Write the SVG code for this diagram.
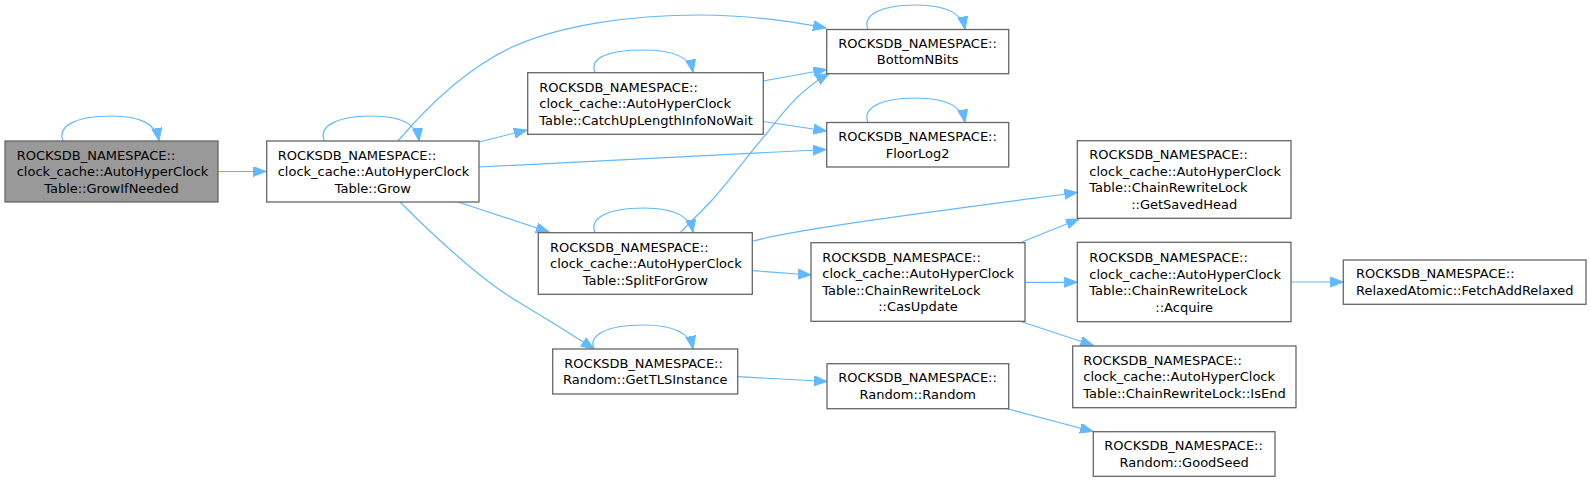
<svg xmlns="http://www.w3.org/2000/svg" width="1591" height="482" viewBox="0 0 1591 482">
<style>
.box{fill:#ffffff;stroke:#666666;stroke-width:1.3}
.cur{fill:#999999;stroke:#666666;stroke-width:1.3}
text{font-family:"DejaVu Sans",sans-serif;font-size:13px;fill:#000000}
.m{text-anchor:middle}
.e{fill:none;stroke:#63b8ff;stroke-width:1.2;marker-end:url(#ah)}
</style>
<defs>
<marker id="ah" markerUnits="userSpaceOnUse" markerWidth="15" markerHeight="12" refX="13" refY="5" orient="auto" viewBox="0 0 15 12">
<path d="M0,0 L13,5 L0,10 z" fill="#63b8ff" stroke="#63b8ff" stroke-width="1"/>
</marker>
</defs>
<g id="edges">
<path class="e" d="M63,141 C57,126 76,116 111,116 C141,116 156,124 159,141"/>
<path class="e" d="M218,171.5 L266,171.5"/>
<path class="e" d="M324.5,141 C318,126 337,116 372,116 C402,116 417,124 419,141"/>
<path class="e" d="M398,141 C420,115 460,72 510,48 C560,25 630,15 700,15 C750,15 790,21 826,28"/>
<path class="e" d="M479,142 L527,130"/>
<path class="e" d="M479,167 L826,149.5"/>
<path class="e" d="M458,202 L549,232"/>
<path class="e" d="M400,202 C430,232 480,280 520,303 C545,318 568,332 594,349"/>
<path class="e" d="M595,72.5 C589,58 608,50 644,50 C674,50 690,57 693,72.5"/>
<path class="e" d="M763,81 L826.5,69.5"/>
<path class="e" d="M763,121.5 L826.5,131"/>
<path class="e" d="M868,29.5 C862,15 881,5 916,5 C946,5 962,13 965,29.5"/>
<path class="e" d="M868,122.5 C862,108 881,98 916,98 C946,98 962,106 965,122.5"/>
<path class="e" d="M595,232.5 C589,218 608,208 644,208 C674,208 690,216 693,232.5"/>
<path class="e" d="M680,233 C692,220 705,208 713,199 C730,180 752,150 767,133 C785,110 800,90 829,73.5"/>
<path class="e" d="M753,241 C800,228 960,208 1077.3,192.5"/>
<path class="e" d="M753,270.7 L811,275"/>
<path class="e" d="M1020,242.7 L1079,219"/>
<path class="e" d="M1025,282.3 L1077.3,282.3"/>
<path class="e" d="M1020,321.3 L1093.5,345.5"/>
<path class="e" d="M1291,282 L1343.3,282"/>
<path class="e" d="M594,349 C588,335 607,325 643,325 C673,325 690,333 693,349"/>
<path class="e" d="M737.7,376.7 L827,381.5"/>
<path class="e" d="M1006,408.5 L1093,431.5"/>
</g>
<g id="n_growifneeded">
<rect class="cur" x="5" y="141" width="213" height="61"/>
<text x="16.7" y="159.5">ROCKSDB_NAMESPACE::</text>
<text x="16.7" y="176">clock_cache::AutoHyperClock</text>
<text class="m" x="111.5" y="192.5">Table::GrowIfNeeded</text>
</g>
<g id="n_grow">
<rect class="box" x="266.7" y="141" width="212.3" height="61"/>
<text x="277.7" y="159.5">ROCKSDB_NAMESPACE::</text>
<text x="277.7" y="176">clock_cache::AutoHyperClock</text>
<text class="m" x="372.8" y="192.5">Table::Grow</text>
</g>
<g id="n_catchup">
<rect class="box" x="527.7" y="72.7" width="235.6" height="61.6"/>
<text x="539.3" y="91.5">ROCKSDB_NAMESPACE::</text>
<text x="539.3" y="108">clock_cache::AutoHyperClock</text>
<text x="539.3" y="124.5">Table::CatchUpLengthInfoNoWait</text>
</g>
<g id="n_bottomnbits">
<rect class="box" x="826.7" y="29.5" width="182" height="44.2"/>
<text x="838.3" y="47.8">ROCKSDB_NAMESPACE::</text>
<text class="m" x="917.7" y="64.3">BottomNBits</text>
</g>
<g id="n_floorlog2">
<rect class="box" x="826.7" y="122.5" width="182" height="44.5"/>
<text x="838.3" y="141">ROCKSDB_NAMESPACE::</text>
<text class="m" x="917.7" y="157.5">FloorLog2</text>
</g>
<g id="n_splitforgrow">
<rect class="box" x="538.3" y="232.7" width="214" height="61.6"/>
<text x="550" y="251.5">ROCKSDB_NAMESPACE::</text>
<text x="550" y="268">clock_cache::AutoHyperClock</text>
<text class="m" x="645.3" y="284.5">Table::SplitForGrow</text>
</g>
<g id="n_casupdate">
<rect class="box" x="811" y="242.7" width="214" height="78.6"/>
<text x="822.3" y="261.7">ROCKSDB_NAMESPACE::</text>
<text x="822.3" y="278.2">clock_cache::AutoHyperClock</text>
<text x="822.3" y="294.7">Table::ChainRewriteLock</text>
<text class="m" x="918" y="311.2">::CasUpdate</text>
</g>
<g id="n_gettlsinstance">
<rect class="box" x="552.7" y="349" width="185" height="45"/>
<text x="564.3" y="367.5">ROCKSDB_NAMESPACE::</text>
<text class="m" x="645.2" y="384">Random::GetTLSInstance</text>
</g>
<g id="n_random">
<rect class="box" x="827" y="363.7" width="181.7" height="45"/>
<text x="838.3" y="382.2">ROCKSDB_NAMESPACE::</text>
<text class="m" x="917.8" y="398.7">Random::Random</text>
</g>
<g id="n_goodseed">
<rect class="box" x="1093.3" y="431.7" width="181.7" height="44.6"/>
<text x="1104.3" y="450">ROCKSDB_NAMESPACE::</text>
<text class="m" x="1184.2" y="466.5">Random::GoodSeed</text>
</g>
<g id="n_getsavedhead">
<rect class="box" x="1077.3" y="140.7" width="213.7" height="77.6"/>
<text x="1089.3" y="159.3">ROCKSDB_NAMESPACE::</text>
<text x="1089.3" y="175.8">clock_cache::AutoHyperClock</text>
<text x="1089.3" y="192.3">Table::ChainRewriteLock</text>
<text class="m" x="1184.2" y="208.8">::GetSavedHead</text>
</g>
<g id="n_acquire">
<rect class="box" x="1077.3" y="242.3" width="213.7" height="79.4"/>
<text x="1089.3" y="262">ROCKSDB_NAMESPACE::</text>
<text x="1089.3" y="278.5">clock_cache::AutoHyperClock</text>
<text x="1089.3" y="295">Table::ChainRewriteLock</text>
<text class="m" x="1184.2" y="311.5">::Acquire</text>
</g>
<g id="n_isend">
<rect class="box" x="1072.7" y="346" width="223.3" height="61.7"/>
<text x="1083.3" y="364.8">ROCKSDB_NAMESPACE::</text>
<text x="1083.3" y="381.3">clock_cache::AutoHyperClock</text>
<text x="1083.3" y="397.8">Table::ChainRewriteLock::IsEnd</text>
</g>
<g id="n_fetchaddrelaxed">
<rect class="box" x="1343.3" y="260" width="242.7" height="44.3"/>
<text x="1356" y="278">ROCKSDB_NAMESPACE::</text>
<text x="1356" y="294.5">RelaxedAtomic::FetchAddRelaxed</text>
</g>
</svg>
